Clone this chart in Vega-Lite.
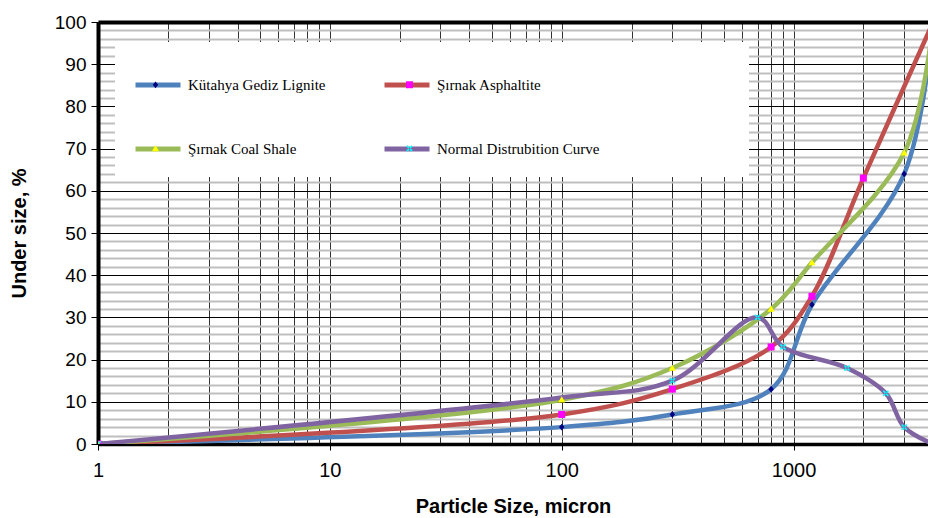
{
  "$schema": "https://vega.github.io/schema/vega-lite/v6.json",
  "width": 830,
  "height": 422,
  "autosize": {"type": "none"},
  "padding": {"left": 98, "top": 22, "right": 0, "bottom": 74},
  "background": "white",
  "config": {"view": {"stroke": null}, "font": "Liberation Sans"},
  "datasets": {
    "lines": [
      {"size": 1, "under": 0, "series": "Kütahya Gediz Lignite"},
      {"size": 100, "under": 4, "series": "Kütahya Gediz Lignite"},
      {"size": 300, "under": 7, "series": "Kütahya Gediz Lignite"},
      {"size": 800, "under": 13, "series": "Kütahya Gediz Lignite"},
      {"size": 1200, "under": 33, "series": "Kütahya Gediz Lignite"},
      {"size": 3000, "under": 64, "series": "Kütahya Gediz Lignite"},
      {"size": 4000, "under": 100, "series": "Kütahya Gediz Lignite"},
      {"size": 1, "under": 0, "series": "Şırnak Asphaltite"},
      {"size": 100, "under": 7, "series": "Şırnak Asphaltite"},
      {"size": 300, "under": 13, "series": "Şırnak Asphaltite"},
      {"size": 800, "under": 23, "series": "Şırnak Asphaltite"},
      {"size": 1200, "under": 35, "series": "Şırnak Asphaltite"},
      {"size": 2000, "under": 63, "series": "Şırnak Asphaltite"},
      {"size": 4000, "under": 100, "series": "Şırnak Asphaltite"},
      {"size": 1, "under": 0, "series": "Şırnak Coal Shale"},
      {"size": 100, "under": 10.5, "series": "Şırnak Coal Shale"},
      {"size": 300, "under": 18, "series": "Şırnak Coal Shale"},
      {"size": 800, "under": 32, "series": "Şırnak Coal Shale"},
      {"size": 1200, "under": 43, "series": "Şırnak Coal Shale"},
      {"size": 3000, "under": 69, "series": "Şırnak Coal Shale"},
      {"size": 4000, "under": 100, "series": "Şırnak Coal Shale"},
      {"size": 1, "under": 0, "series": "Normal Distrubition Curve"},
      {"size": 100, "under": 11, "series": "Normal Distrubition Curve"},
      {"size": 300, "under": 15, "series": "Normal Distrubition Curve"},
      {"size": 700, "under": 30, "series": "Normal Distrubition Curve"},
      {"size": 900, "under": 23, "series": "Normal Distrubition Curve"},
      {"size": 1700, "under": 18, "series": "Normal Distrubition Curve"},
      {"size": 2500, "under": 12, "series": "Normal Distrubition Curve"},
      {"size": 3000, "under": 4, "series": "Normal Distrubition Curve"},
      {"size": 4000, "under": 0, "series": "Normal Distrubition Curve"}
    ],
    "markers": [
      {"size": 1, "under": 0, "sample": "Kütahya Gediz Lignite"},
      {"size": 100, "under": 4, "sample": "Kütahya Gediz Lignite"},
      {"size": 300, "under": 7, "sample": "Kütahya Gediz Lignite"},
      {"size": 800, "under": 13, "sample": "Kütahya Gediz Lignite"},
      {"size": 1200, "under": 33, "sample": "Kütahya Gediz Lignite"},
      {"size": 3000, "under": 64, "sample": "Kütahya Gediz Lignite"},
      {"size": 1, "under": 0, "sample": "Şırnak Asphaltite"},
      {"size": 100, "under": 7, "sample": "Şırnak Asphaltite"},
      {"size": 300, "under": 13, "sample": "Şırnak Asphaltite"},
      {"size": 800, "under": 23, "sample": "Şırnak Asphaltite"},
      {"size": 1200, "under": 35, "sample": "Şırnak Asphaltite"},
      {"size": 2000, "under": 63, "sample": "Şırnak Asphaltite"},
      {"size": 1, "under": 0, "sample": "Şırnak Coal Shale"},
      {"size": 100, "under": 10.5, "sample": "Şırnak Coal Shale"},
      {"size": 300, "under": 18, "sample": "Şırnak Coal Shale"},
      {"size": 800, "under": 32, "sample": "Şırnak Coal Shale"},
      {"size": 1200, "under": 43, "sample": "Şırnak Coal Shale"},
      {"size": 3000, "under": 69, "sample": "Şırnak Coal Shale"},
      {"size": 1, "under": 0, "sample": "Normal Distrubition Curve"},
      {"size": 300, "under": 15, "sample": "Normal Distrubition Curve"},
      {"size": 700, "under": 30, "sample": "Normal Distrubition Curve"},
      {"size": 900, "under": 23, "sample": "Normal Distrubition Curve"},
      {"size": 1700, "under": 18, "sample": "Normal Distrubition Curve"},
      {"size": 2500, "under": 12, "sample": "Normal Distrubition Curve"},
      {"size": 3000, "under": 4, "sample": "Normal Distrubition Curve"}
    ]
  },
  "resolve": {"axis": {"x": "independent"}, "scale": {"color": "independent", "shape": "independent"}},
  "encoding": {
    "x": {
      "field": "size", "type": "quantitative",
      "scale": {"type": "log", "domain": [1, 3800], "nice": false},
      "axis": {
        "orient": "bottom",
        "values": [1,2,3,4,5,6,7,8,9,10,20,30,40,50,60,70,80,90,100,200,300,400,500,600,700,800,900,1000,2000,3000],
        "labelExpr": "indexof([1,10,100,1000], datum.value) >= 0 ? format(datum.value, 'd') : ''",
        "grid": true,
        "gridColor": "#333333",
        "gridWidth": 1,
        "tickColor": {"condition": {"test": "indexof([1,10,100,1000], datum.value) >= 0", "value": "black"}, "value": "transparent"},
        "tickSize": 6,
        "domainColor": "black",
        "domainWidth": 3.5,
        "labelFontSize": 20,
        "labelColor": "black",
        "labelPadding": 10,
        "labelFlush": false,
        "labelOverlap": false,
        "title": "Particle Size, micron",
        "titleFontSize": 20,
        "titleFontWeight": "bold",
        "titleColor": "black",
        "titlePadding": 16
      }
    },
    "y": {
      "field": "under", "type": "quantitative",
      "scale": {"domain": [0, 100], "nice": false},
      "axis": {
        "values": [0,2,4,6,8,10,12,14,16,18,20,22,24,26,28,30,32,34,36,38,40,42,44,46,48,50,52,54,56,58,60,62,64,66,68,70,72,74,76,78,80,82,84,86,88,90,92,94,96,98,100],
        "labelExpr": "datum.value % 10 === 0 ? datum.label : ''",
        "grid": true,
        "gridColor": {"condition": {"test": "datum.value % 10 === 0", "value": "black"}, "value": "#bfbfbf"},
        "gridWidth": {"condition": {"test": "datum.value % 10 === 0", "value": 1}, "value": 2},
        "tickColor": {"condition": {"test": "datum.value % 10 === 0", "value": "black"}, "value": "transparent"},
        "tickSize": 7,
        "domainColor": "black",
        "domainWidth": 4,
        "labelFontSize": 19,
        "labelColor": "black",
        "labelPadding": 5,
        "labelFlush": false,
        "labelOverlap": false,
        "title": "Under size, %",
        "titleFontSize": 20,
        "titleFontWeight": "bold",
        "titleColor": "black",
        "titlePadding": 25
      }
    }
  },
  "layer": [
    {
      "data": {"name": "lines"},
      "mark": {"type": "line", "interpolate": "catmull-rom", "strokeWidth": 4.5, "strokeCap": "round", "clip": true},
      "encoding": {
        "color": {
          "field": "series", "type": "nominal",
          "scale": {
            "domain": ["Kütahya Gediz Lignite", "Şırnak Asphaltite", "Şırnak Coal Shale", "Normal Distrubition Curve"],
            "range": ["#4F81BD", "#C0504D", "#9BBB59", "#8064A2"]
          },
          "legend": {
            "orient": "none", "legendX": 17, "legendY": 20, "direction": "horizontal",
            "columns": 2, "columnPadding": 48, "rowPadding": 29, "padding": 18,
            "fillColor": "white", "strokeColor": null,
            "symbolType": "stroke", "symbolSize": 2025, "symbolStrokeWidth": 5,
            "labelFont": "Liberation Serif", "labelFontSize": 15, "labelColor": "black", "labelOffset": 5, "labelLimit": 0,
            "title": "\u00a0", "titleOrient": "right", "titlePadding": 132
          }
        }
      }
    },
    {
      "data": {"name": "markers"},
      "mark": {"type": "point", "filled": true, "size": 2025, "opacity": 1, "clip": true},
      "encoding": {
        "x": {
          "field": "size", "type": "quantitative",
          "axis": {"orient": "top", "labels": false, "ticks": false, "grid": false, "domainColor": "black", "domainWidth": 4, "title": null}
        },
        "color": {
          "field": "sample", "type": "nominal",
          "scale": {
            "domain": ["Kütahya Gediz Lignite", "Şırnak Asphaltite", "Şırnak Coal Shale", "Normal Distrubition Curve"],
            "range": ["#000080", "#FF00FF", "#FFFF00", "#00FFFF"]
          },
          "legend": {
            "orient": "none", "legendX": 17, "legendY": 22, "direction": "horizontal",
            "columns": 2, "columnPadding": 66, "rowPadding": 33, "padding": 18,
            "symbolSize": 2025, "symbolStrokeWidth": 0, "symbolOpacity": 1,
            "labelFont": "Liberation Serif", "labelFontSize": 15, "labelColor": "transparent", "labelOffset": 5, "labelLimit": 0,
            "title": null
          }
        },
        "shape": {
          "field": "sample", "type": "nominal",
          "scale": {
            "domain": ["Kütahya Gediz Lignite", "Şırnak Asphaltite", "Şırnak Coal Shale", "Normal Distrubition Curve"],
            "range": [
              "M0,-0.15L0.12,0L0,0.15L-0.12,0Z",
              "M-0.155,-0.155H0.155V0.155H-0.155Z",
              "M0,-0.15L0.16,0.12L-0.16,0.12Z",
              "M-0.14,-0.09L-0.09,-0.14L0.14,0.09L0.09,0.14Z M-0.14,0.09L-0.09,0.14L0.14,-0.09L0.09,-0.14Z"
            ]
          },
          "legend": {
            "orient": "none", "legendX": 17, "legendY": 22, "direction": "horizontal",
            "columns": 2, "columnPadding": 66, "rowPadding": 33, "padding": 18,
            "symbolSize": 2025, "symbolStrokeWidth": 0, "symbolOpacity": 1,
            "labelFont": "Liberation Serif", "labelFontSize": 15, "labelColor": "transparent", "labelOffset": 5, "labelLimit": 0,
            "title": null
          }
        }
      }
    }
  ]
}
